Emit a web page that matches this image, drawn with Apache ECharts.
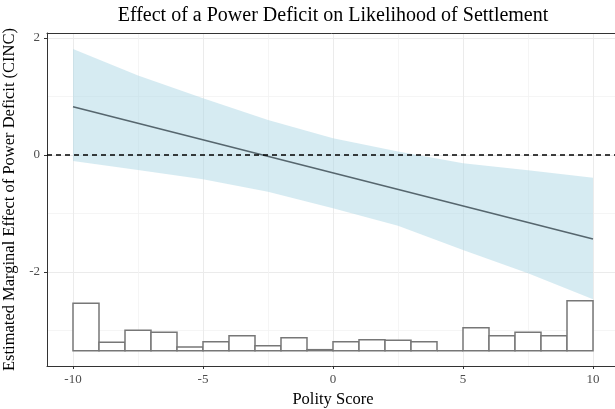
<!DOCTYPE html>
<html><head><meta charset="utf-8">
<script src="https://cdn.jsdelivr.net/npm/echarts@6/dist/echarts.min.js"></script>
<style>html,body{margin:0;padding:0;background:#fff}#c{width:615px;height:409px}</style>
</head><body><div id="c"></div>
<script>
const titleText = 'Effect of a Power Deficit on Likelihood of Settlement';
const xLabel = 'Polity Score';
const yLabel = 'Estimated Marginal Effect of Power Deficit (CINC)';
const xTicks = [-10, -5, 0, 5, 10];
const xMinor = [-7.5, -2.5, 2.5, 7.5];
const yTicks = [-2, 0, 2];
const yMinor = [-3, -1, 1];

// confidence ribbon
const bandX = [-10, -7.5, -5, -2.5, 0, 2.5, 5, 7.5, 10];
const bandUpper = [1.812, 1.36, 0.969, 0.60, 0.285, 0.06, -0.14, -0.26, -0.388];
const bandLower = [-0.103, -0.256, -0.416, -0.627, -0.912, -1.21, -1.624, -2.022, -2.467];

// fitted marginal effect line
const lineX = [-10, 10];
const lineY = [0.826, -1.436];

// histogram of polity scores (drawn on the y scale)
const binStart = [-10, -9, -8, -7, -6, -5, -4, -3, -2, -1, 0, 1, 2, 3, 4, 5, 6, 7, 8, 9];
const binTop = [-2.535, -3.202, -2.997, -3.031, -3.282, -3.191, -3.089, -3.260, -3.123, -3.328,
                -3.191, -3.157, -3.168, -3.191, -3.345, -2.952, -3.089, -3.031, -3.089, -2.491];
const binWidth = 1;
const histBase = -3.345;

const FONT = 'Liberation Serif';
const chart = echarts.init(document.getElementById('c'), null, {renderer: 'canvas'});

chart.setOption({
  animation: false,
  backgroundColor: '#fff',
  title: {
    text: titleText, left: 328, top: 1, textAlign: 'center',
    textStyle: {fontFamily: FONT, fontSize: 20, fontWeight: 'normal', color: '#000'}
  },
  grid: {left: 47, right: -4, top: 33, bottom: 43, containLabel: false, outerBoundsMode: 'none'},
  xAxis: [{
    type: 'value', min: -11, max: 11, position: 'bottom',
    axisLine: {show: true, onZero: false, lineStyle: {color: '#333', width: 1}},
    axisTick: {show: true, customValues: xTicks, length: 3, lineStyle: {color: '#333'}},
    axisLabel: {customValues: xTicks, color: '#4d4d4d', fontSize: 13, fontFamily: FONT, margin: 7},
    splitLine: {show: true, lineStyle: {color: '#ebebeb', width: 1}},
    name: xLabel, nameLocation: 'middle', nameGap: 21,
    nameTextStyle: {fontFamily: FONT, fontSize: 16.5, color: '#000'}
  }, {
    type: 'value', min: -11, max: 11, position: 'top',
    axisLine: {show: true, onZero: false, lineStyle: {color: '#333', width: 1}},
    axisTick: {show: false, customValues: xMinor},
    axisLabel: {show: false},
    splitLine: {show: true, lineStyle: {color: '#f2f2f2', width: 0.8}}
  }],
  yAxis: [{
    type: 'value', min: -3.607, max: 2.085, position: 'left',
    axisLine: {show: true, onZero: false, lineStyle: {color: '#333', width: 1}},
    axisTick: {show: true, customValues: yTicks, length: 3, lineStyle: {color: '#333'}},
    axisLabel: {customValues: yTicks, color: '#4d4d4d', fontSize: 13, fontFamily: FONT, margin: 7},
    splitLine: {show: true, lineStyle: {color: '#ebebeb', width: 1}},
    name: yLabel, nameLocation: 'middle', nameGap: 25,
    nameTextStyle: {fontFamily: FONT, fontSize: 16.5, color: '#000'}
  }, {
    type: 'value', min: -3.607, max: 2.085, position: 'right',
    axisLine: {show: false},
    axisTick: {show: false, customValues: yMinor},
    axisLabel: {show: false},
    splitLine: {show: true, lineStyle: {color: '#f2f2f2', width: 0.8}}
  }],
  series: [{
    type: 'custom', xAxisIndex: 0, yAxisIndex: 0, clip: true, silent: true,
    data: [[bandX[0], bandUpper[0]]],
    renderItem: function (params, api) {
      const pts = [];
      for (let i = 0; i < bandX.length; i++) pts.push(api.coord([bandX[i], bandUpper[i]]));
      for (let i = bandX.length - 1; i >= 0; i--) pts.push(api.coord([bandX[i], bandLower[i]]));
      return {type: 'polygon', shape: {points: pts}, style: {fill: 'rgba(173,216,230,0.5)'}};
    }
  }, {
    type: 'custom', xAxisIndex: 0, yAxisIndex: 0, silent: true,
    data: binStart.map((s, i) => [s, binTop[i]]),
    encode: {x: 0, y: 1},
    renderItem: function (params, api) {
      const p0 = api.coord([api.value(0), histBase]);
      const p1 = api.coord([api.value(0) + binWidth, api.value(1)]);
      return {
        type: 'rect',
        shape: {x: p0[0], y: p1[1], width: p1[0] - p0[0], height: p0[1] - p1[1]},
        style: {fill: '#fff', stroke: '#777', lineWidth: 1.5}
      };
    }
  }, {
    type: 'line', xAxisIndex: 0, yAxisIndex: 0, silent: true,
    data: lineX.map((x, i) => [x, lineY[i]]),
    showSymbol: false, symbol: 'none',
    lineStyle: {color: '#56666e', width: 1.6},
    markLine: {
      silent: true, symbol: ['none', 'none'], label: {show: false},
      data: [{yAxis: 0}],
      lineStyle: {color: '#000', type: [5, 4], width: 1.5}
    }
  }]
});
</script>
</body></html>
